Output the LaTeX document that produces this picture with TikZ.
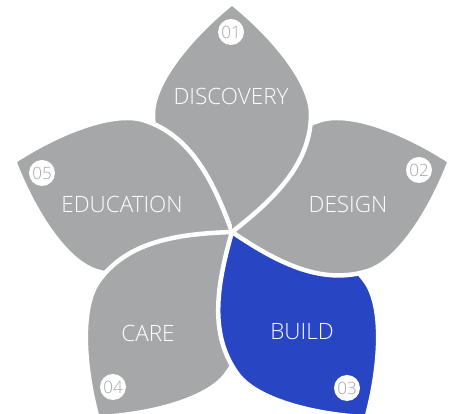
\documentclass[tikz,border=0pt]{standalone}
\usepackage{fontspec}
\setmainfont{Open Sans}
\IfFontExistsTF{Open Sans Light}{\newfontfamily\petallight{Open Sans Light}}{\newfontfamily\petallight{Open Sans}}
\definecolor{petalgrey}{RGB}{166,167,169}
\definecolor{petalblue}{RGB}{40,69,195}
\begin{document}
\begin{tikzpicture}[x=1pt,y=1pt,
  petal/.pic={\path[pic actions] (0,0) .. controls (45,35) and (79,70) .. (79,118) .. controls (79,150) and (41,196) .. (0,229) .. controls (-41,196) and (-79,150) .. (-79,118) .. controls (-79,70) and (-45,35) .. (0,0) -- cycle;},
  petalfill/.style={draw=white, line width=4.5pt, line join=round, fill=#1},
  lbl/.style={text=white, font=\petallight\fontsize{22.5}{25}\selectfont, inner sep=0pt},
  badge/.style={circle, fill=white, minimum size=26pt, inner sep=0pt, text=petalgrey, font=\petallight\fontsize{17}{19}\selectfont}]
\useasboundingbox (0,0) rectangle (450,414);
\coordinate (C) at (232,182);
% petals: 01 first, then 05,04,03,02, then 01 right half again
\pic[petalfill=petalgrey, rotate=0] at (C) {petal};
\pic[petalfill=petalgrey, rotate=72] at (C) {petal};
\pic[petalfill=petalgrey, rotate=144] at (C) {petal};
\pic[petalfill=petalblue, rotate=216] at (C) {petal};
\pic[petalfill=petalgrey, rotate=288] at (C) {petal};
\begin{scope}[shift={(C)}]
  \clip (0,-3) rectangle (300,300);
  \pic[petalfill=petalgrey] at (0,0) {petal};
\end{scope}
% labels
\node[lbl] (discovery) at (231,318) {DISCOVERY};
\node[lbl] (design) at (348,210) {DESIGN};
\node[lbl] (build) at (302,82) {BUILD};
\node[lbl] (care) at (148,81) {CARE};
\node[lbl] (education) at (122,210) {EDUCATION};
% badges
\node[badge] (b01) at (231,382) {01};
\node[badge] (b02) at (419,244) {02};
\node[badge] (b03) at (347,26) {03};
\node[badge] (b04) at (113,27) {04};
\node[badge] (b05) at (42,241) {05};
\end{tikzpicture}
\end{document}
